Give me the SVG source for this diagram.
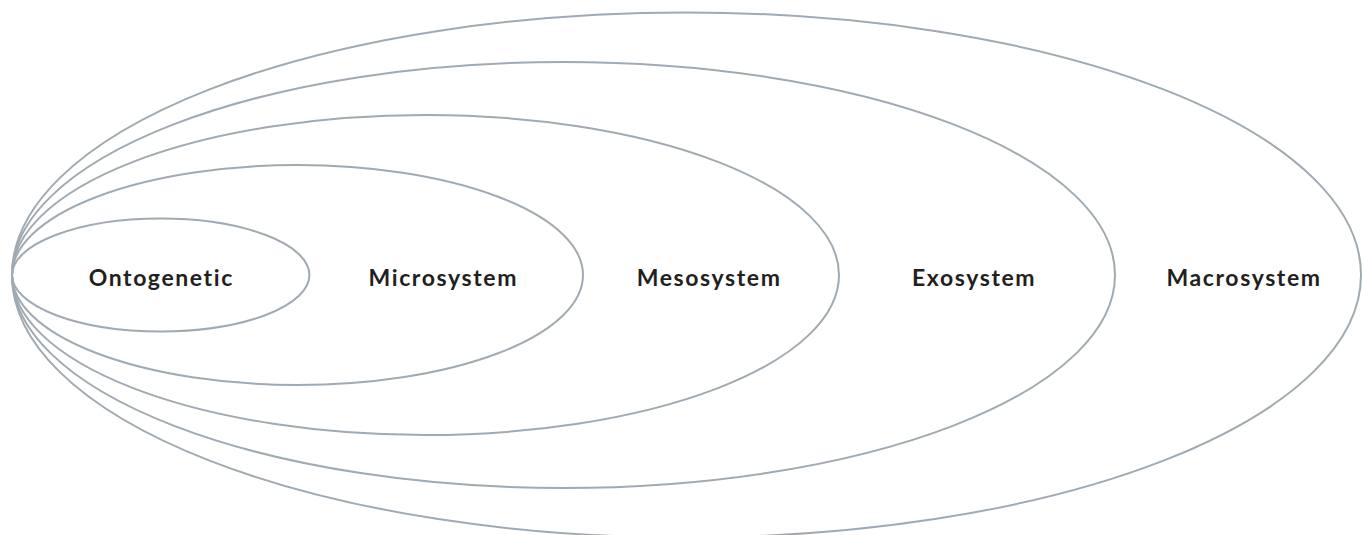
<svg xmlns="http://www.w3.org/2000/svg" width="1362" height="535" viewBox="0 0 1362 535">
<style>
.ring{fill:none;stroke:#a0aab3;stroke-width:2}
.lbl{font-family:Lato,"Open Sans","Liberation Sans",sans-serif;font-weight:700;font-size:23px;letter-spacing:1.6px;fill:#231f20;text-anchor:middle}
</style>
<rect width="1362" height="535" fill="#ffffff"/>
<g id="macrosystem">
<ellipse class="ring" cx="686.5" cy="275" rx="674.5" ry="262.5"/>
<text class="lbl" x="1244.1" y="285.5">Macrosystem</text>
</g>
<g id="exosystem">
<ellipse class="ring" cx="563.5" cy="275" rx="551.5" ry="213"/>
<text class="lbl" x="974.1" y="285.5">Exosystem</text>
</g>
<g id="mesosystem">
<ellipse class="ring" cx="425.5" cy="275" rx="413.5" ry="160"/>
<text class="lbl" x="709.1" y="285.5">Mesosystem</text>
</g>
<g id="microsystem">
<ellipse class="ring" cx="297.5" cy="275" rx="285.5" ry="110"/>
<text class="lbl" x="443.3" y="285.5">Microsystem</text>
</g>
<g id="ontogenetic">
<ellipse class="ring" cx="160.7" cy="275" rx="148.7" ry="56.5"/>
<text class="lbl" x="161.3" y="285.5">Ontogenetic</text>
</g>
<g id="connectors"></g>
</svg>
